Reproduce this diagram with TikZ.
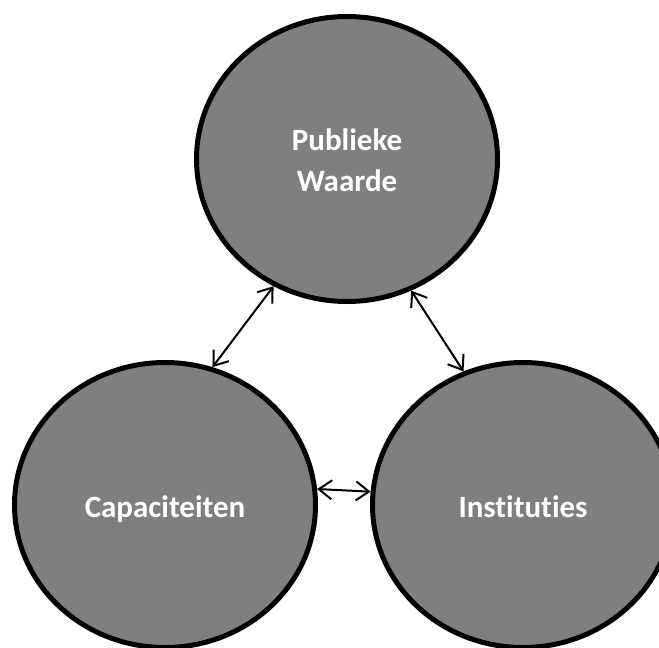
\documentclass[tikz,border=0pt]{standalone}
\usepackage{fontspec}
\setmainfont{Carlito}[RawFeature={-liga;-dlig;-clig;-calt}]
\usetikzlibrary{shapes.geometric,arrows.meta}
\definecolor{fillgray}{HTML}{7F7F7F}
\begin{document}
\begin{tikzpicture}[x=1pt,y=-1pt,
  bubble/.style={ellipse, draw=black, line width=5pt, fill=fillgray,
    minimum width=301pt, minimum height=285pt, inner sep=0pt,
    text=white, font=\fontsize{31pt}{41pt}\selectfont\bfseries, align=center,
    text height=30pt, text depth=6pt},
  link/.style={line width=2pt, {Straight Barb[length=13pt,width=19pt]}-{Straight Barb[length=13pt,width=19pt]}}]
\useasboundingbox (0,0) rectangle (659,648);
\node[bubble, text height=71pt] (pw) at (347,159) {Publieke\\Waarde};
\node[bubble] (cap) at (165,505) {Capaciteiten};
\node[bubble] (ins) at (523,505) {Instituties};
\draw[link] (pw.240) -- (cap.71);
\draw[link] (pw.296) -- (ins.114);
\draw[link] (cap.6) -- (ins.175);
\end{tikzpicture}
\end{document}
